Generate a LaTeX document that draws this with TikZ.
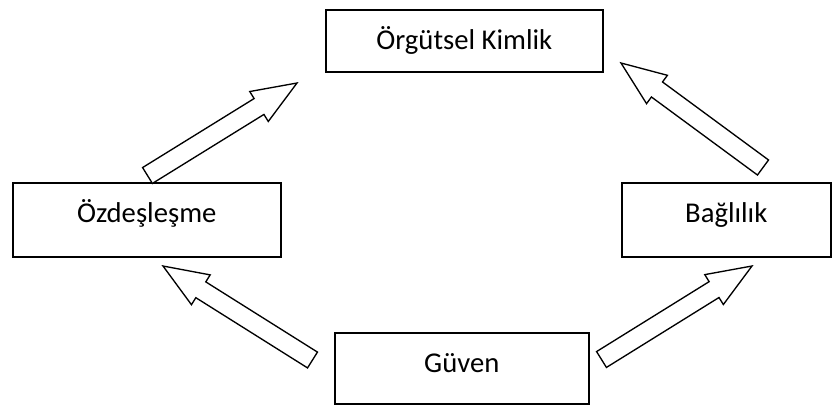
\documentclass[tikz,border=0pt]{standalone}
\usepackage{fontspec}
\setmainfont{Carlito}
\usetikzlibrary{calc}
\tikzset{
  boxstyle/.style={draw, line width=1.2pt, inner sep=0pt, anchor=north west,
    text height=30pt, font=\fontsize{21.5}{26}\selectfont, align=center},
  arrowline/.style={draw, line width=1pt, line join=miter, fill=white}
}
\newcommand\blockarrow[2]{%
  \path coordinate (hb) at ($(#2)!33.5pt!(#1)$);
  \draw[arrowline] ($(#1)!7pt!90:(#2)$) -- ($(hb)!7pt!-90:(#1)$) -- ($(hb)!13.2pt!-90:(#1)$)
    -- (#2) -- ($(hb)!13.2pt!90:(#1)$) -- ($(hb)!7pt!90:(#1)$) -- ($(#1)!7pt!-90:(#2)$) -- cycle;
}
\begin{document}
\begin{tikzpicture}[x=0.75pt,y=-0.75pt]
\useasboundingbox (0,0) rectangle (832,408);
\node[boxstyle, minimum width=207.75pt, text depth=16.5pt] (org) at (325,9) {Örgütsel Kimlik};
\node[boxstyle, minimum width=201pt, text depth=25.5pt] (ozd) at (12,182) {Özdeşleşme};
\node[boxstyle, minimum width=156.75pt, text depth=25.5pt] (bag) at (621,182) {Bağlılık};
\node[boxstyle, minimum width=190.5pt, text depth=23.25pt] (guv) at (334,332) {Güven};
\coordinate (a1t) at (147.5,175.5); \coordinate (a1h) at (297,83);
\coordinate (a2t) at (763,167.5);   \coordinate (a2h) at (621,63);
\coordinate (a3t) at (312.5,360);   \coordinate (a3h) at (163,266);
\coordinate (a4t) at (601.5,359.5); \coordinate (a4h) at (752,266);
\blockarrow{a1t}{a1h}
\blockarrow{a2t}{a2h}
\blockarrow{a3t}{a3h}
\blockarrow{a4t}{a4h}
\end{tikzpicture}
\end{document}
